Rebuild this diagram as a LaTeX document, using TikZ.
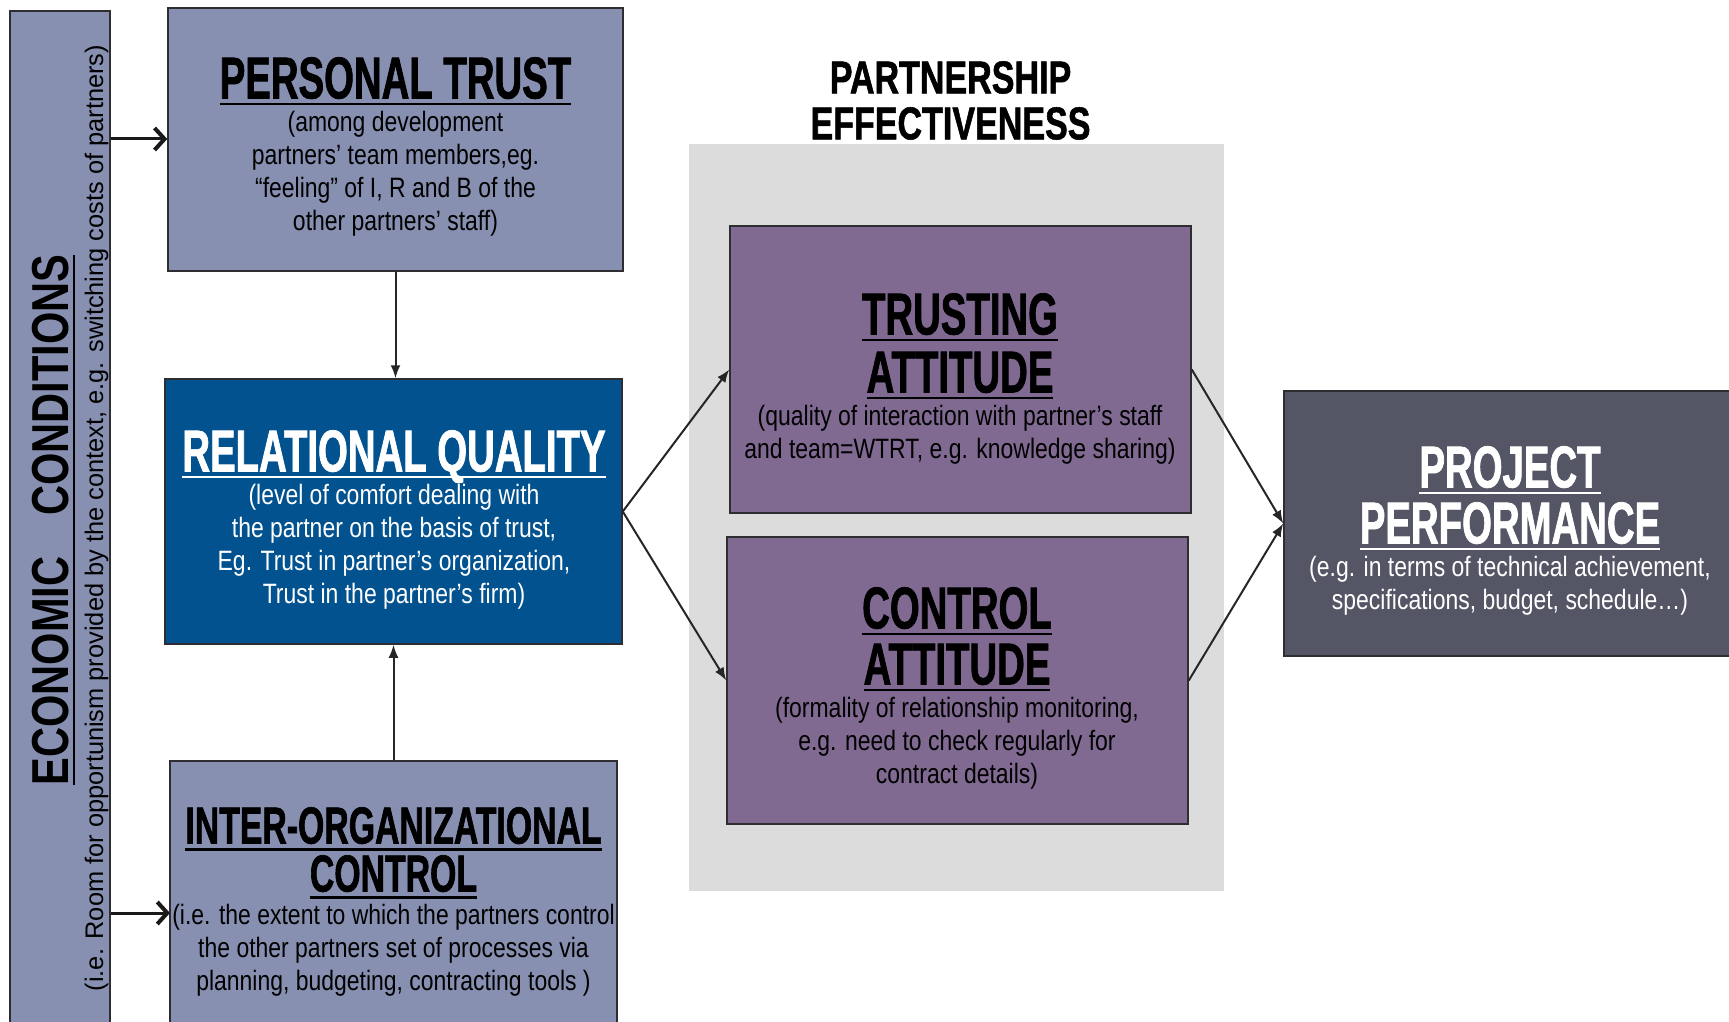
\documentclass[tikz,border=0pt]{standalone}
\usepackage{fontspec}
\setmainfont{Liberation Sans}
\newfontfamily\bodyfont[FakeStretch=0.82]{Liberation Sans}
\newfontfamily\headfont[FakeStretch=0.65,FakeBold=1.2]{Liberation Sans}
\newfontfamily\econfont[FakeStretch=0.8]{Liberation Sans}
\newfontfamily\pefont[FakeStretch=0.74,FakeBold=1.2]{Liberation Sans}
\usetikzlibrary{arrows.meta}
\definecolor{ptfill}{RGB}{136,144,178}
\definecolor{rqfill}{RGB}{2,82,143}
\definecolor{attfill}{RGB}{128,106,146}
\definecolor{panelfill}{RGB}{220,220,220}
\definecolor{ppfill}{RGB}{84,86,101}
\definecolor{edge}{RGB}{45,45,50}
\newsavebox\ulbox
\newcommand{\myul}[1]{\sbox\ulbox{#1}\rlap{\rule[-7pt]{\wd\ulbox}{2.5pt}}\usebox\ulbox}
\newcommand{\headA}{\headfont\bfseries\fontsize{59}{33}\selectfont}
\newcommand{\headB}{\headfont\bfseries\fontsize{52}{33}\selectfont}
\tikzset{
  box/.style={draw=edge, line width=1.5pt, rectangle, inner sep=0pt},
  txt/.style={inner sep=0pt, align=center, anchor=north,
    font={\bodyfont\fontsize{28}{33}\selectfont\lineskiplimit=-1000pt}},
  conn/.style={draw=black!85, line width=2pt, -{Latex[length=13pt,width=10pt]}},
  econarrow/.style={draw=black!90, line width=3pt, -{Straight Barb[length=10pt,width=22pt,line width=4pt]}}
}
\begin{document}
\begin{tikzpicture}[x=1pt,y=-1pt]
\useasboundingbox (0,0) rectangle (1729,1022);
\clip (0,0) rectangle (1729,1022);
% panel
\node[rectangle, fill=panelfill, inner sep=0pt, minimum width=535pt, minimum height=747pt] (panel) at (956.5,517.5) {};
% boxes
\node[box, fill=ptfill, minimum width=100pt, minimum height=1029pt] (econ) at (60,525.5) {};
\node[box, fill=ptfill, minimum width=455pt, minimum height=263pt] (pt) at (395.5,139.5) {};
\node[box, fill=rqfill, minimum width=457pt, minimum height=265pt] (rq) at (393.5,511.5) {};
\node[box, fill=ptfill, minimum width=447pt, minimum height=279pt] (io) at (393.5,900.5) {};
\node[box, fill=attfill, minimum width=461pt, minimum height=287pt] (ta) at (960.5,369.5) {};
\node[box, fill=attfill, minimum width=461pt, minimum height=287pt] (ca) at (957.5,680.5) {};
\node[box, fill=ppfill, minimum width=461pt, minimum height=265pt] (pp) at (1514.5,523.5) {};
% texts
\node[inner sep=0pt, rotate=90, anchor=base, font={\econfont\bfseries\fontsize{52}{52}\selectfont}] (econtitle) at (68,520) {\myul{ECONOMIC\hspace{41pt}CONDITIONS}};
\node[inner sep=0pt, rotate=90, anchor=base, font={\fontsize{25.4}{25.4}\selectfont}] (econsub) at (103,518) {(i.e. Room for opportunism provided by the context, e.g. switching costs of partners)};
\node[txt] (pttxt) at (395.5,57) {{\headA\myul{PERSONAL TRUST}}\\(among development\\partners’ team members,eg.\\“feeling” of I, R and B of the\\other partners’ staff)};
\node[txt, text=white] (rqtxt) at (394,430) {{\headA\myul{RELATIONAL QUALITY}}\\(level of comfort dealing with\\the partner on the basis of trust,\\Eg. Trust in partner’s organization,\\Trust in the partner’s firm)};
\node[txt] (iotxt) at (393.5,807) {{\headB\myul{INTER-ORGANIZATIONAL}}\\[15pt]{\headB\myul{CONTROL}}\\(i.e. the extent to which the partners control\\the other partners set of processes via\\planning, budgeting, contracting tools )};
\node[txt] (tatxt) at (960,293) {{\headA\myul{TRUSTING}}\\[25pt]{\headA\myul{ATTITUDE}}\\(quality of interaction with partner’s staff\\and team=WTRT, e.g. knowledge sharing)};
\node[txt] (catxt) at (957,587) {{\headA\myul{CONTROL}}\\[23pt]{\headA\myul{ATTITUDE}}\\(formality of relationship monitoring,\\e.g. need to check regularly for\\contract details)};
\node[txt, text=white] (pptxt) at (1510,446) {{\headA\myul{PROJECT}}\\[23pt]{\headA\myul{PERFORMANCE}}\\(e.g. in terms of technical achievement,\\specifications, budget, schedule…)};
\node[inner sep=0pt, align=center, anchor=north, font={\pefont\bfseries\fontsize{46}{46}\selectfont\lineskiplimit=-1000pt}] (pe) at (950.5,61) {PARTNERSHIP\\EFFECTIVENESS};
% connectors
\coordinate (ptin) at (168,139);
\coordinate (ioin) at (170,913);
\draw[econarrow] (econ.east |- ptin) -- (pt.west |- ptin);
\draw[econarrow] (econ.east |- ioin) -- (ioin);
\draw[conn] (pt.south) -- (pt.south |- rq.north);
\draw[conn] (io.north) -- (io.north |- rq.south);
\draw[conn] (rq.east) -- (ta.west);
\draw[conn] (rq.east) -- (ca.west);
\draw[conn] (ta.east) -- (pp.west);
\draw[conn] (ca.east) -- (pp.west);
\end{tikzpicture}
\end{document}
